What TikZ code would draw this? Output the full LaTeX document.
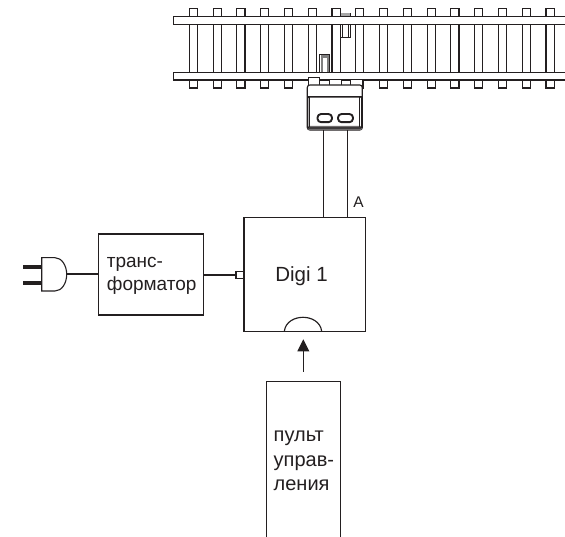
\documentclass[tikz,border=0pt]{standalone}
\usepackage{fontspec}
\setmainfont{Liberation Sans}
\usetikzlibrary{arrows.meta}
\definecolor{ink}{HTML}{231F20}
\tikzset{
  lw/.style={draw=ink,line width=1.15pt},
  box/.style={lw,rectangle,inner sep=0pt,outer sep=0pt,fill=white},
  wire/.style={draw=ink,line width=1.6pt},
  tie/.style={draw=ink,line width=1.1pt,fill=white},
  rail/.style={draw=ink,line width=1.1pt,fill=white},
  txt/.style={text=ink,inner sep=0pt,align=left},
  pin/.style={draw=ink,line width=4pt},
  part/.style={draw=ink,line width=1pt,fill=white},
  pill/.style={draw=ink,line width=1.9pt,fill=white,rounded corners=3.6pt}
}
\begin{document}
\begin{tikzpicture}[x=1pt,y=-1pt]
\useasboundingbox (0,0) rectangle (565,537);
\clip (0,0) rectangle (565,537);
% ties
\foreach \i in {0,...,15}{
  \draw[tie] ({189.3+23.78*\i},8.5) rectangle ({197.4+23.78*\i},88);
}
% feeder tabs on the track
\draw[part] (340.5,13.5) rectangle (350,37.5);
\fill[gray!70] (341,13.5) rectangle (349.5,16);
\draw[draw=ink,line width=.9pt] (342.5,24) rectangle (348,37);
% rails
\draw[rail] (173.5,16.8) rectangle (575,24.3);
\draw[part] (319.5,54.5) rectangle (329.5,73);
\fill[gray] (320.5,55.5) rectangle (328.5,73);
\fill[white] (322.5,58) rectangle (326.5,73);
\draw[rail] (173.5,72.3) rectangle (575,80);
\draw[part] (308.5,78) rectangle (319.5,87);
\draw[part] (329.5,80) rectangle (341,87);
\draw[part] (350,80) rectangle (362,87);
% track clip
\node[box,rounded corners=2.5pt,minimum width=55pt,minimum height=45pt] (clip) at (334.8,107.5) {};
\fill[ink!65,rounded corners=2pt] (307.5,126) rectangle (362.3,130);
\draw[draw=ink,line width=1.3pt,rounded corners=1pt] (307.8,97) rectangle (361.8,128);
\draw[draw=ink,line width=.9pt] (309.8,97) -- (309.8,127);
\draw[draw=ink,line width=.9pt] (359.8,97) -- (359.8,127);
\draw[draw=ink,line width=1.5pt] (307.5,96.6) -- (362.3,96.6);
\draw[pill] (317.5,114) rectangle (332,122.2);
\draw[pill] (338,114) rectangle (353,122.2);
% boxes
\node[box,minimum width=121.7pt,minimum height=113.6pt] (digi) at (304.85,274.5) {};
\node[text=ink,font=\fontsize{20.5}{24}\selectfont,inner sep=0pt,anchor=base] (digilabel) at (301.5,281.7) {Digi 1};
\node[box,minimum width=105.4pt,minimum height=81pt] (trafo) at (151,274.5) {};
\node[txt,font=\fontsize{19}{23}\selectfont,anchor=west] (trafolabel) at (106.7,275.5) {транс-\\форматор};
\node[box,minimum width=74pt,minimum height=190pt] (control) at (303.3,476.7) {};
\node[txt,font=\fontsize{20}{24.5}\selectfont,anchor=west] (controllabel) at (273.5,461) {пульт\\управ-\\ления};
% clip to Digi 1
\coordinate (ca) at (323.3,0);
\coordinate (cb) at (347.3,0);
\draw[lw] (clip.south -| ca) -- (digi.north -| ca);
\draw[lw] (clip.south -| cb) -- (digi.north -| cb);
\node[text=ink,font=\fontsize{15.5}{18}\selectfont,inner sep=0pt,anchor=base] (alabel) at (358.5,208) {A};
% socket on Digi 1
\coordinate (socketl) at (284.3,331.3);
\coordinate (socketr) at (321.7,331.3);
\draw[lw] (socketl) .. controls (285.5,321.5) and (295,317.3) .. (303,317.3) .. controls (311,317.3) and (320.5,321.5) .. (socketr);
% arrow
\coordinate (arrowtail) at (303.3,371.7);
\coordinate (arrowtip) at (303.3,339.3);
\draw[draw=ink,line width=1.1pt,-{Triangle[length=12pt,width=11.7pt]}] (arrowtail) -- (arrowtip);
% power wires
\node[part,minimum width=8pt,minimum height=7pt,inner sep=0pt,outer sep=0pt,line width=1.1pt] (jack) at (240,275.2) {};
\draw[wire] (trafo.east |- jack) -- (jack.west);
% plug
\coordinate (plugnw) at (41.7,257.7);
\coordinate (plugsw) at (41.7,291);
\coordinate (plugtip) at (66.7,274.3);
\draw[draw=ink,line width=1.1pt,fill=white] (plugnw) -- (55,257.7) .. controls (62,257.7) and (66.7,266) .. (plugtip) .. controls (66.7,283) and (62,291) .. (55,291) -- (plugsw) -- cycle;
\draw[wire] (plugtip) -- (trafo.west |- plugtip);
\coordinate (pina) at (23.3,266.7);
\coordinate (pinb) at (23.3,282.7);
\draw[pin] (pina) -- (plugnw |- pina);
\draw[pin] (pinb) -- (plugnw |- pinb);
\end{tikzpicture}
\end{document}
